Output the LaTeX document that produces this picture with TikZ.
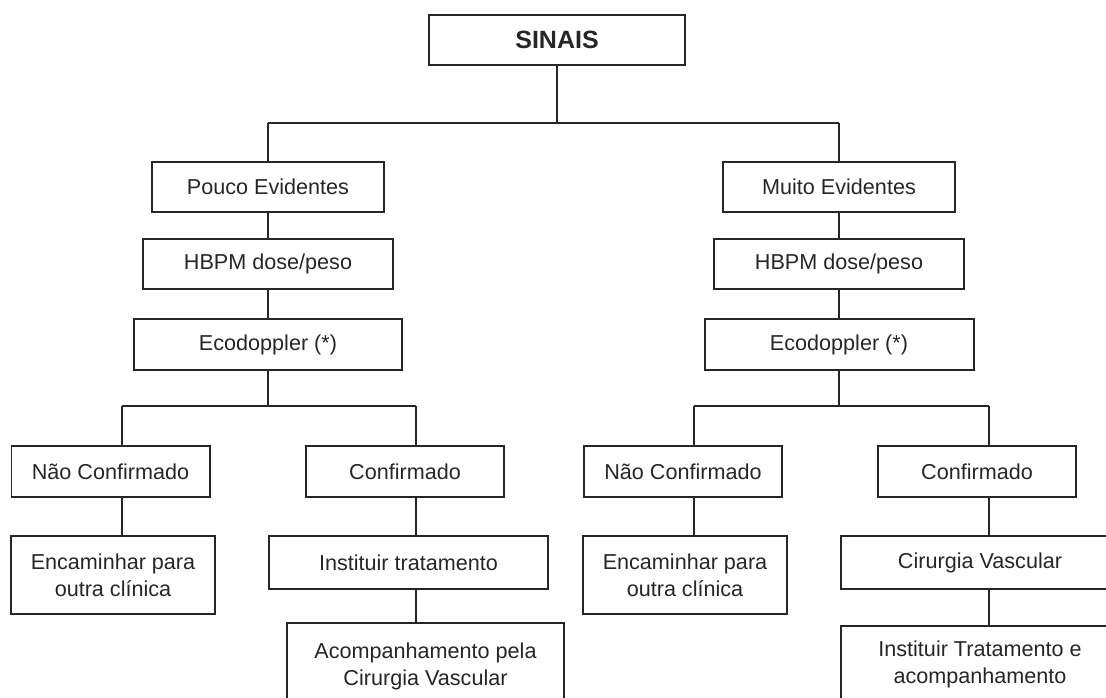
\documentclass[tikz,border=0pt]{standalone}
\usepackage{fontspec}
\setmainfont{Liberation Sans}

\begin{document}
\begin{tikzpicture}[x=0.5pt,y=-0.5pt,link/.style={line width=0.35mm,draw=black!85}]
	\useasboundingbox (0,0) rectangle (1106,697);
	\clip (0,0) rectangle (1106,697);
	\begin{scope}[every node/.style={rectangle,draw=black!85,line width=0.35mm,inner sep=0pt,align=center,text=black!85,font=\fontsize{10.8}{13.4}\selectfont}]
	\node[minimum width=128pt,minimum height=25pt,font=\fontsize{12.5}{15}\selectfont\bfseries] (S) at (557,40) {SINAIS};
	% left branch
	\node[minimum width=116pt,minimum height=25pt] (PE) at (268,187) {Pouco Evidentes};
	\node[minimum width=125pt,minimum height=25pt] (H1) at (268,264) {HBPM dose/peso};
	\node[minimum width=134pt,minimum height=25.5pt] (E1) at (268,344.5) {Ecodoppler (*)};
	\node[minimum width=99pt,minimum height=25.5pt] (N1) at (110.5,471.5) {Não Confirmado};
	\node[minimum width=99pt,minimum height=25.5pt] (C1) at (405,471.5) {Confirmado};
	\node[minimum width=102pt,minimum height=39pt] (F1) at (113,575) {Encaminhar para\\outra clínica};
	\node[minimum width=139.5pt,minimum height=26.5pt] (T1) at (408.5,562.5) {Instituir tratamento};
	\node[minimum width=138.5pt,minimum height=43.5pt] (A1) at (425.5,666.5) {Acompanhamento pela\\Cirurgia Vascular};
	% right branch
	\node[minimum width=116pt,minimum height=25pt] (ME) at (839,187) {Muito Evidentes};
	\node[minimum width=125pt,minimum height=25pt] (H2) at (839,264) {HBPM dose/peso};
	\node[minimum width=134.5pt,minimum height=25.5pt] (E2) at (839,344.5) {Ecodoppler (*)};
	\node[minimum width=99pt,minimum height=25.5pt] (N2) at (683,471.5) {Não Confirmado};
	\node[minimum width=99pt,minimum height=25.5pt] (C2) at (977,471.5) {Confirmado};
	\node[minimum width=102pt,minimum height=39pt] (F2) at (685,575) {Encaminhar para\\outra clínica};
	\node[minimum width=139pt,minimum height=26.5pt] (V2) at (980,562.5) {Cirurgia Vascular};
	\node[minimum width=139pt,minimum height=38pt] (T2) at (980,664) {Instituir Tratamento e\\acompanhamento};
	\end{scope}
	% bar corners
	\coordinate (L0) at (268,123);
	\coordinate (R0) at (839,123);
	\coordinate (L1) at (122,406);
	\coordinate (L2) at (416,406);
	\coordinate (R1) at (694,406);
	\coordinate (R2) at (989,406);
	\draw [link] (S) -- (S |- L0);
	\draw [link] (L0) -- (R0);
	\draw [link] (L0) -- (PE);
	\draw [link] (R0) -- (ME);
	\draw [link] (PE) -- (H1);
	\draw [link] (H1) -- (E1);
	\draw [link] (ME) -- (H2);
	\draw [link] (H2) -- (E2);
	\draw [link] (E1) -- (E1 |- L1);
	\draw [link] (E2) -- (E2 |- R1);
	\draw [link] (L1) -- (L2);
	\draw [link] (R1) -- (R2);
	\draw [link] (L1) -- (L1 |- N1.north);
	\draw [link] (L2) -- (L2 |- C1.north);
	\draw [link] (R1) -- (R1 |- N2.north);
	\draw [link] (R2) -- (R2 |- C2.north);
	\draw [link] (N1.south -| L1) -- (F1.north -| L1);
	\draw [link] (C1.south -| L2) -- (T1.north -| L2);
	\draw [link] (T1.south -| L2) -- (A1.north -| L2);
	\draw [link] (N2.south -| R1) -- (F2.north -| R1);
	\draw [link] (C2.south -| R2) -- (V2.north -| R2);
	\draw [link] (V2.south -| R2) -- (T2.north -| R2);
\end{tikzpicture}
\end{document}
